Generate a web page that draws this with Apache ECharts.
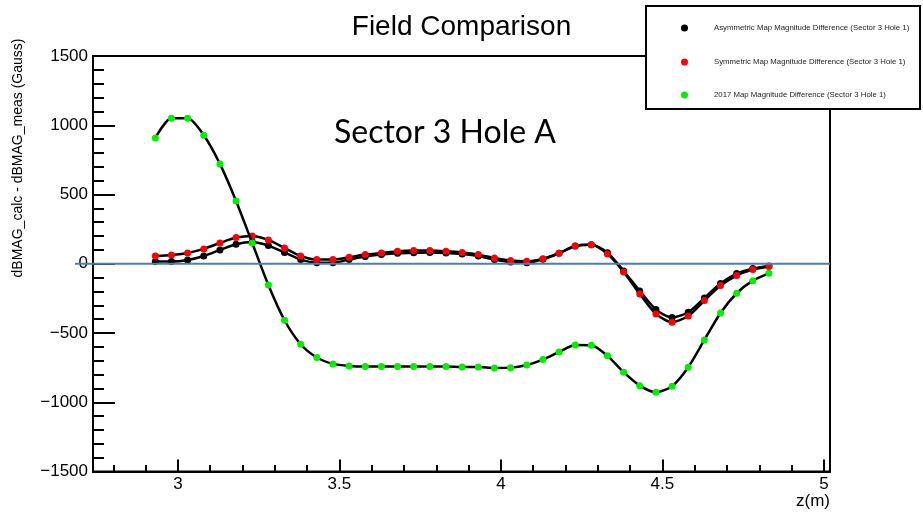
<!DOCTYPE html>
<html>
<head>
<meta charset="utf-8">
<script src="https://cdn.jsdelivr.net/npm/echarts@6/dist/echarts.min.js"></script>
<style>html,body{margin:0;padding:0;background:#fff;}#c{width:923px;height:512px;}</style>
</head>
<body>
<div id="c"></div>
<script>
const zPositions = [2.93,2.98,3.03,3.08,3.13,3.18,3.23,3.28,3.33,3.38,3.43,3.48,3.53,3.58,3.63,3.68,3.73,3.78,3.83,3.88,3.93,3.98,4.03,4.08,4.13,4.18,4.23,4.28,4.33,4.38,4.43,4.48,4.53,4.58,4.63,4.68,4.73,4.78,4.83];
const asymmetricDiff = [16,16,27,56,100,141,157,131,81,30,8,8,30,52,66,76,80,82,78,70,56,30,12,8,33,76,128,138,80,-52,-196,-331,-388,-350,-247,-143,-71,-35,-16];
const symmetricDiff = [56,64,78,107,150,189,201,172,114,56,30,30,47,66,78,90,95,95,90,81,66,42,23,18,37,76,129,138,71,-59,-218,-362,-422,-377,-266,-157,-85,-42,-20];
const map2017Diff = [908,1050,1050,928,721,453,150,-153,-408,-581,-677,-723,-738,-742,-742,-742,-742,-742,-742,-745,-745,-752,-750,-731,-692,-637,-586,-588,-665,-783,-880,-928,-884,-747,-550,-355,-213,-122,-69];
const seriesNames = [
  'Asymmetric Map Magnitude Difference (Sector 3 Hole 1)',
  'Symmetric Map Magnitude Difference (Sector 3 Hole 1)',
  '2017 Map Magnitude Difference (Sector 3 Hole 1)'
];
const xMajorTicks = [3, 3.5, 4, 4.5, 5];
const xMinorTicks = [2.8,2.9,3.1,3.2,3.3,3.4,3.6,3.7,3.8,3.9,4.1,4.2,4.3,4.4,4.6,4.7,4.8,4.9];
const referenceLevel = 0;
const titleText = 'Field Comparison';
const annotationText = 'Sector 3 Hole A';
const yAxisTitle = 'dBMAG_calc - dBMAG_meas (Gauss)';
const xAxisTitle = 'z(m)';

const pair = (vals) => zPositions.map((z, i) => [z, vals[i]]);
const markerColors = ['#000000', '#ff0000', '#00f000'];
const seriesValues = [asymmetricDiff, symmetricDiff, map2017Diff];

const chart = echarts.init(document.getElementById('c'), null, {renderer: 'canvas'});
const FONT = 'Liberation Sans, Arial, Helvetica, sans-serif';

const series = seriesValues.map((vals, k) => ({
  name: seriesNames[k],
  type: 'line',
  data: pair(vals),
  smooth: 0.25,
  symbol: 'circle',
  symbolSize: 7,
  showSymbol: true,
  itemStyle: {color: markerColors[k]},
  lineStyle: {color: '#000', width: 2.5},
  z: 3 + k,
  animation: false
}));

const legends = seriesNames.map((n, k) => ({
  data: [n],
  orient: 'vertical',
  left: 676,
  top: [19, 53, 86][k],
  icon: 'circle',
  itemWidth: 7,
  itemHeight: 7,
  selectedMode: false,
  textStyle: {fontFamily: FONT, fontSize: 7.8, color: '#222', padding: [0, 0, 0, 21]},
  z: 10
}));

const baseGraphics = [
  {type: 'rect', left: 645, top: 5, shape: {width: 274, height: 103}, style: {fill: '#fff', stroke: '#000', lineWidth: 2}, z: 9},
  {type: 'text', x: 18, y: 158, rotation: Math.PI / 2, style: {text: yAxisTitle, font: '14px ' + FONT, fill: '#000', textAlign: 'center', textVerticalAlign: 'middle'}, z: 9},
  {type: 'text', x: 830, y: 501, style: {text: xAxisTitle, font: '17px ' + FONT, fill: '#000', textAlign: 'right', textVerticalAlign: 'middle'}, z: 9}
];

chart.setOption({
  animation: false,
  backgroundColor: '#fff',
  title: [
    {text: titleText, left: 'center', top: 8, textStyle: {fontFamily: FONT, fontSize: 28, fontWeight: 'normal', color: '#000'}},
    {text: annotationText, left: 329, top: 112, textStyle: {fontFamily: 'Lato, Open Sans, sans-serif', fontSize: 32, fontWeight: 'normal', color: '#000'}}
  ],
  legend: legends,
  grid: {left: 93, right: 93, top: 56, bottom: 40.5, show: true, borderColor: '#000', borderWidth: 2, backgroundColor: 'transparent'},
  xAxis: [
    {
      type: 'value', min: 2.737, max: 5.019,
      axisLine: {show: true, onZero: false, lineStyle: {color: '#000', width: 2}},
      axisTick: {show: true, inside: true, length: 12, lineStyle: {color: '#000', width: 2}, customValues: xMajorTicks},
      axisLabel: {show: true, margin: 4, customValues: xMajorTicks, fontFamily: FONT, fontSize: 17, color: '#000', formatter: (v) => String(v)},
      splitLine: {show: false}
    },
    {
      type: 'value', min: 2.737, max: 5.019, position: 'bottom',
      axisLine: {show: false, onZero: false},
      axisTick: {show: true, inside: true, length: 6.5, lineStyle: {color: '#000', width: 2}, customValues: xMinorTicks},
      axisLabel: {show: false},
      splitLine: {show: false}
    }
  ],
  yAxis: {
    type: 'value', min: -1500, max: 1500, interval: 500,
    axisLine: {show: true, onZero: false, lineStyle: {color: '#000', width: 2}},
    axisTick: {show: true, inside: true, length: 22, lineStyle: {color: '#000', width: 2}},
    minorTick: {show: true, splitNumber: 5, length: 11, lineStyle: {color: '#000', width: 2}},
    axisLabel: {margin: 5, fontFamily: FONT, fontSize: 17, color: '#000', formatter: (v) => v < 0 ? '\u2212' + Math.abs(v) : String(v)},
    splitLine: {show: false}
  },
  graphic: baseGraphics,
  series: series
});

// Zero reference line, positioned through the chart's own scales; it starts just left of the axis as in the original
const pLeft = chart.convertToPixel({xAxisIndex: 0, yAxisIndex: 0}, [2.737, referenceLevel]);
const pRight = chart.convertToPixel({xAxisIndex: 0, yAxisIndex: 0}, [5.019, referenceLevel]);
chart.setOption({
  graphic: baseGraphics.concat([{
    type: 'line', silent: true, z: 8,
    shape: {x1: pLeft[0] - 18, y1: pLeft[1], x2: pRight[0], y2: pRight[1]},
    style: {stroke: '#4a7ebb', lineWidth: 2}
  }])
});
</script>
</body>
</html>
